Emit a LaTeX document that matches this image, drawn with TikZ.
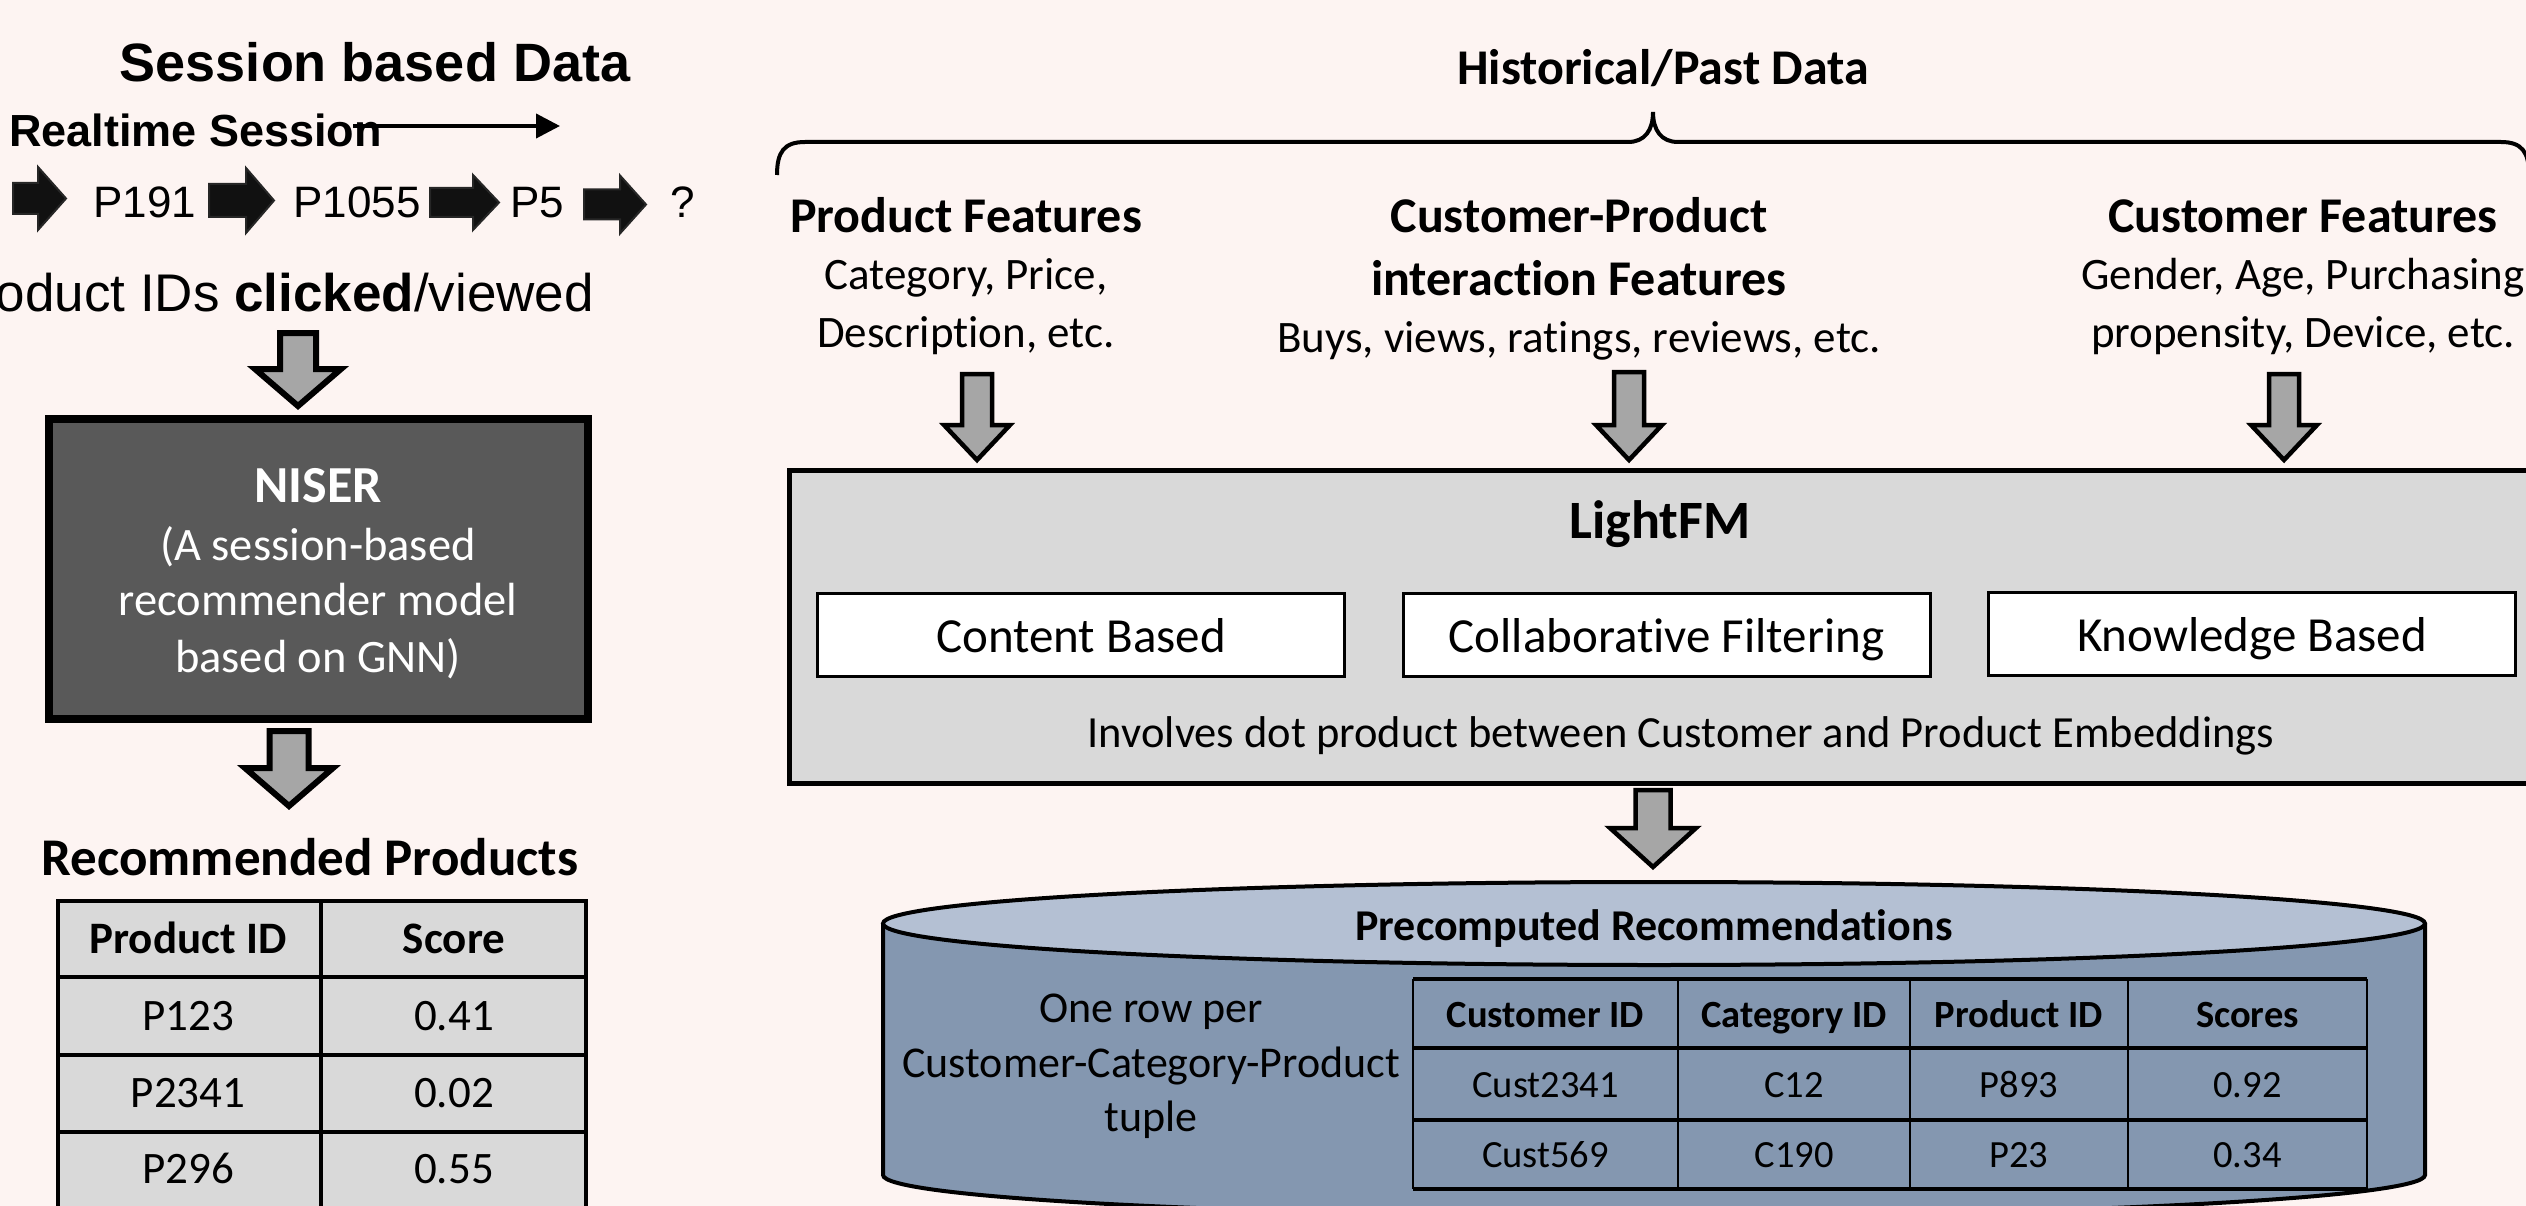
\documentclass[tikz,border=0pt]{standalone}
\usepackage{fontspec}
\setmainfont{Carlito}[Ligatures=NoCommon]
\newfontfamily\arialfont{Liberation Sans}
\usetikzlibrary{calc,arrows.meta}

\definecolor{pagebg}{HTML}{FDF4F2}
\definecolor{arrowgray}{HTML}{A6A6A6}
\definecolor{darkbox}{HTML}{595959}
\definecolor{lightbox}{HTML}{D9D9D9}
\definecolor{dbside}{HTML}{8497B0}
\definecolor{dbcap}{HTML}{B4C0D3}
\definecolor{sessfill}{HTML}{111111}

% font size helper (sizes are in pt, one pt per unit of the grid)
\newcommand\fsz[1]{\fontsize{#1}{#1}\selectfont}

% vertical block arrow: [style]{start}{tip}{body half}{head half}{head length}
\newcommand\vblock[6][]{%
  \draw[#1] let \p1=(#2), \p2=(#3) in
    (\x1-#4,\y1) -- (\x1+#4,\y1) -- (\x1+#4,\y2+#6) -- (\x1+#5,\y2+#6)
    -- (\x1,\y2) -- (\x1-#5,\y2+#6) -- (\x1-#4,\y2+#6) -- cycle;}
% horizontal block arrow: [style]{start}{tip}{body half}{head half}{head length}
\newcommand\hblock[6][]{%
  \draw[#1] let \p1=(#2), \p2=(#3) in
    (\x1,\y1-#4) -- (\x2-#6,\y1-#4) -- (\x2-#6,\y1-#5) -- (\x2,\y1)
    -- (\x2-#6,\y1+#5) -- (\x2-#6,\y1+#4) -- (\x1,\y1+#4) -- cycle;}

\tikzset{
  lbl/.style={inner sep=0pt, anchor=base},
  sessarrow/.style={fill=sessfill, draw=black!85, line width=2pt},
  grayarrow/.style={fill=arrowgray, draw=black, line width=6pt},
  grayarrowthin/.style={fill=arrowgray, draw=black, line width=4.5pt},
  pid/.style={lbl, font=\arialfont\fsz{44}},
  head/.style={lbl, font=\bfseries\fsz{50}},
  sub/.style={lbl, font=\fsz{45}},
  method/.style={draw=black, line width=3pt, fill=white, inner sep=0pt,
    minimum width=527pt, minimum height=83pt, text height=34pt, text depth=0pt,
    font=\fsz{49}},
  cellhead/.style={lbl, font=\bfseries\fsz{45}},
  cell/.style={lbl, font=\fsz{45}},
  dbhead/.style={lbl, font=\bfseries\fsz{38.5}},
  dbcell/.style={lbl, font=\fsz{38.5}},
}

\begin{document}
\begin{tikzpicture}[x=1pt,y=-1pt]
\useasboundingbox (0,0) rectangle (2526,1206);
\clip (0,0) rectangle (2526,1206);
\fill[pagebg] (0,0) rectangle (2526,1206);

% ---------------- session based branch ----------------
\node[lbl, font=\arialfont\bfseries\fsz{54}] (sesstitle) at (375,82) {Session based Data};
\node[lbl, anchor=base west, font=\arialfont\bfseries\fsz{45}] (realtime) at (9,147) {Realtime Session};
\coordinate (timeA) at (353,126);
\coordinate (timeB) at (560,126);
\draw[line width=4pt, -{Triangle[length=24pt,width=24pt]}] (timeA) -- (timeB);

\node[pid] (p191) at (145,218) {P191};
\node[pid] (p1055) at (357,218) {P1055};
\node[pid] (p5) at (537,218) {P5};
\node[pid] (next) at (683,218) {?};

\coordinate (s1a) at (13,198.5);  \coordinate (s1b) at (66,198.5);
\coordinate (s2a) at (209,200.5); \coordinate (s2b) at (274,200.5);
\coordinate (s3a) at (430,202.5); \coordinate (s3b) at (499,202.5);
\coordinate (s4a) at (584,204.5); \coordinate (s4b) at (646,204.5);
\hblock[sessarrow]{s1a}{s1b}{15.5pt}{31.5pt}{28pt}
\hblock[sessarrow]{s2a}{s2b}{16.5pt}{32.5pt}{28pt}
\hblock[sessarrow]{s3a}{s3b}{14.5pt}{27.5pt}{26pt}
\hblock[sessarrow]{s4a}{s4b}{15pt}{29pt}{26pt}

\node[lbl, anchor=base east, font=\arialfont\fsz{53}] (clicks) at (594,311)
  {Product IDs \textbf{clicked}/viewed};

\coordinate (inA) at (298,333);
\coordinate (inB) at (298,406);
\vblock[grayarrow]{inA}{inB}{18pt}{43pt}{37pt}

\node[draw=black, line width=8pt, fill=darkbox, minimum width=539pt,
      minimum height=300pt, inner sep=0pt] (niser) at (318.5,569) {};
\node[lbl, text=white, font=\bfseries\fsz{52}] (nisername) at (318,502) {NISER};
\node[lbl, text=white, font=\fsz{46.5}] (niserA) at (318,560) {(A session-based};
\node[lbl, text=white, font=\fsz{46.5}] (niserB) at (318,615) {recommender model};
\node[lbl, text=white, font=\fsz{46.5}] (niserC) at (318,672) {based on GNN)};

\coordinate (outA) at (289,731);
\coordinate (outB) at (289,806);
\vblock[grayarrow]{outA}{outB}{19.5pt}{44pt}{38pt}

\node[lbl, font=\bfseries\fsz{53}] (rectitle) at (310,875) {Recommended Products};
\draw[line width=4pt, fill=lightbox] (58,901) rectangle (586,1230);
\draw[line width=4pt] (58,977) -- (586,977) (58,1055) -- (586,1055)
  (58,1132) -- (586,1132) (58,1210) -- (586,1210) (321,901) -- (321,1230);
\node[cellhead] (rh1) at (188,953) {Product ID};
\node[cellhead] (rh2) at (454,953) {Score};
\node[cell] (r11) at (188,1030) {P123};
\node[cell] (r12) at (454,1030) {0.41};
\node[cell] (r21) at (188,1107) {P2341};
\node[cell] (r22) at (454,1107) {0.02};
\node[cell] (r31) at (188,1183) {P296};
\node[cell] (r32) at (454,1183) {0.55};

% ---------------- historical branch ----------------
\node[lbl, font=\bfseries\fsz{50}] (histtitle) at (1663,85) {Historical/Past Data};
\coordinate (braceL) at (777,175);
\coordinate (braceTip) at (1653,112);
\coordinate (braceR) at (2529,175);
\draw[line width=4pt] (braceL) .. controls (777,152) and (784,142) .. (805,142)
  -- (1628,142) .. controls (1645,142) and (1653,130) .. (braceTip)
  .. controls (1653,130) and (1661,142) .. (1678,142)
  -- (2501,142) .. controls (2522,142) and (2529,152) .. (braceR);

\node[head] (pf) at (966,233) {Product Features};
\node[sub] (pf1) at (966,290) {Category, Price,};
\node[sub] (pf2) at (966,347) {Description, etc.};

\node[head] (cp) at (1579,233) {Customer-Product};
\node[head] (cp1) at (1579,295) {interaction Features};
\node[sub] (cp2) at (1579,352) {Buys, views, ratings, reviews, etc.};

\node[head] (cf) at (2303,233) {Customer Features};
\node[sub] (cf1) at (2303,290) {Gender, Age, Purchasing};
\node[sub] (cf2) at (2303,347) {propensity, Device, etc.};

\coordinate (pfA) at (977,374);  \coordinate (pfB) at (977,460);
\coordinate (cpA) at (1629,372); \coordinate (cpB) at (1629,460);
\coordinate (cfA) at (2284,374); \coordinate (cfB) at (2284,460);
\vblock[grayarrowthin]{pfA}{pfB}{15pt}{33pt}{35pt}
\vblock[grayarrowthin]{cpA}{cpB}{15pt}{33pt}{35pt}
\vblock[grayarrowthin]{cfA}{cfB}{15pt}{33pt}{35pt}

\node[draw=black, line width=5pt, fill=lightbox, minimum width=1760pt,
      minimum height=313pt, inner sep=0pt, anchor=north west] (lightfm) at (787,467.5) {};
\node[lbl, font=\bfseries\fsz{54}] (lightfmname) at (1660,538) {LightFM};
\node[method] (content) at (1081,635) {Content Based};
\node[method] (collab) at (1666.5,635) {Collaborative Filtering};
\node[method] (knowledge) at (2252,634) {Knowledge Based};
\node[lbl, font=\fsz{44.5}] (dotprod) at (1681,747)
  {Involves dot product between Customer and Product Embeddings};

\coordinate (fmA) at (1653,790);
\coordinate (fmB) at (1653,867);
\vblock[grayarrowthin]{fmA}{fmB}{17.5pt}{43pt}{39pt}

% precomputed recommendation store
\fill[dbside] (883,923.5) -- (883,1175)
  arc[start angle=180, end angle=0, x radius=771, y radius=41] -- (2425,923.5) -- cycle;
\draw[line width=4pt] (883,923.5) -- (883,1175)
  arc[start angle=180, end angle=0, x radius=771, y radius=41] -- (2425,923.5);
\draw[line width=4pt, fill=dbcap] (1654,923.5) ellipse[x radius=771, y radius=41.5];
\coordinate (db) at (1654,882);
\node[lbl, font=\bfseries\fsz{44}] (dbname) at (1654,940) {Precomputed Recommendations};

\node[lbl, font=\fsz{44}] (tupleA) at (1151,1022) {One row per};
\node[lbl, font=\fsz{44}] (tupleB) at (1151,1077) {Customer-Category-Product};
\node[lbl, font=\fsz{44}] (tupleC) at (1151,1131) {tuple};

\draw[line width=4pt] (1413,979) -- (2367,979) (1413,1048) -- (2367,1048)
  (1413,1120) -- (2367,1120) (1413,1189) -- (2367,1189);
\draw[line width=2pt] (1413,979) -- (1413,1189) (1678,979) -- (1678,1189)
  (1910,979) -- (1910,1189) (2128,979) -- (2128,1189) (2367,979) -- (2367,1189);
\node[dbhead] (dh1) at (1545.5,1027) {Customer ID};
\node[dbhead] (dh2) at (1794,1027) {Category ID};
\node[dbhead] (dh3) at (2019,1027) {Product ID};
\node[dbhead] (dh4) at (2247.5,1027) {Scores};
\node[dbcell] (d11) at (1545.5,1097) {Cust2341};
\node[dbcell] (d12) at (1794,1097) {C12};
\node[dbcell] (d13) at (2019,1097) {P893};
\node[dbcell] (d14) at (2247.5,1097) {0.92};
\node[dbcell] (d21) at (1545.5,1167) {Cust569};
\node[dbcell] (d22) at (1794,1167) {C190};
\node[dbcell] (d23) at (2019,1167) {P23};
\node[dbcell] (d24) at (2247.5,1167) {0.34};
\end{tikzpicture}
\end{document}
